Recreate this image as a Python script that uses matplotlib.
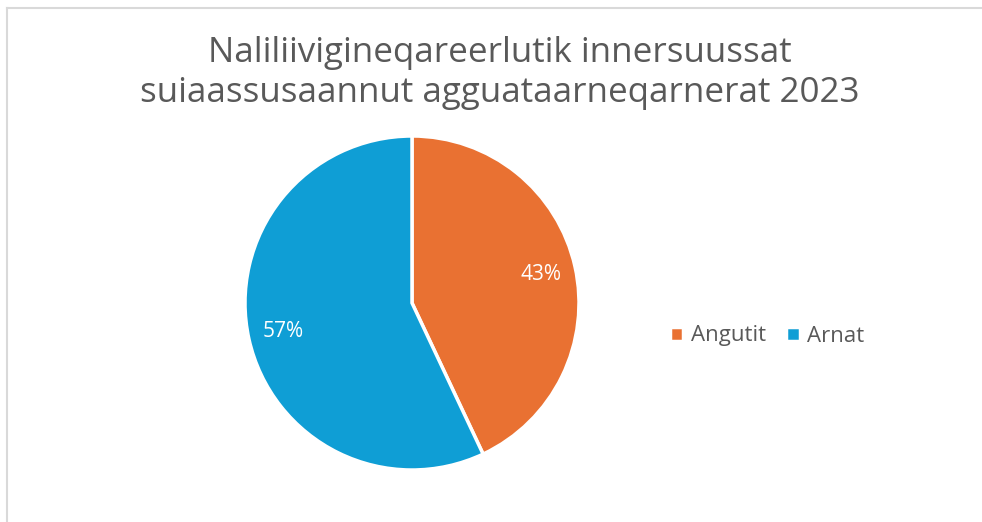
import matplotlib
matplotlib.use('Agg')
import matplotlib.pyplot as plt
from matplotlib.lines import Line2D

# data
labels = ['Angutit', 'Arnat']
values = [43, 57]
colors = ['#E97132', '#0F9ED5']
title = 'Naliliivigineqareerlutik innersuussat\nsuiaassusaannut agguataarneqarnerat 2023'

W, H = 982, 522
fig = plt.figure(figsize=(W / 100, H / 100), dpi=100, facecolor='white')
plt.rcParams['font.family'] = ['Open Sans', 'DejaVu Sans']

# chart border (left + top visible)
fig.add_artist(Line2D([7 / W, 7 / W], [0, 1 - 8 / H], transform=fig.transFigure,
                      color='#D9D9D9', linewidth=1.5))
fig.add_artist(Line2D([7 / W, 1], [1 - 8 / H, 1 - 8 / H], transform=fig.transFigure,
                      color='#D9D9D9', linewidth=1.5))

fig.text(500 / W, 1 - 73 / H, title, ha='center', va='center', fontsize=25.2,
         color='#595959', linespacing=1.2)

# pie
cx, cy, r = 412, 303, 167
ax = fig.add_axes([(cx - r) / W, (H - cy - r) / H, 2 * r / W, 2 * r / H])
wedges, texts, autotexts = ax.pie(
    values, colors=colors, startangle=90, counterclock=False,
    autopct='%1.0f%%', pctdistance=0.79,
    wedgeprops=dict(edgecolor='white', linewidth=2.5),
    textprops=dict(color='white', fontsize=15))
ax.set_xlim(-1, 1)
ax.set_ylim(-1, 1)
ax.set_aspect('equal')
ax.axis('off')

fig.legend(wedges, labels, loc='center left', bbox_to_anchor=(650 / W, 1 - 336 / H),
           ncol=2, frameon=False, fontsize=16, handlelength=0.6, handleheight=0.6,
           handletextpad=0.35, columnspacing=0.9, labelcolor='#595959')

fig.savefig('out.png', dpi=100, facecolor='white')
